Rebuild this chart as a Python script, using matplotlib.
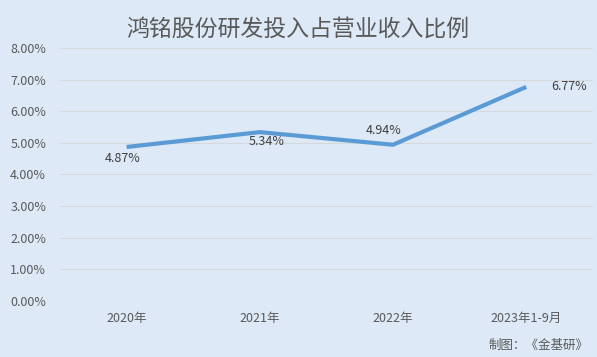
import matplotlib
matplotlib.use('Agg')
import matplotlib.pyplot as plt
from matplotlib.ticker import FuncFormatter

plt.rcParams['font.family'] = ['Noto Sans CJK SC', 'DejaVu Sans']

categories = ['2020年', '2021年', '2022年', '2023年1-9月']
ratio = [4.87, 5.34, 4.94, 6.77]
yticks = [0, 1, 2, 3, 4, 5, 6, 7, 8]

bg = '#dde9f6'
line_color = '#5b9bd5'
text_color = '#595959'

fig = plt.figure(figsize=(5.97, 3.57), dpi=100, facecolor=bg)
ax = fig.add_axes([0.1005, 0.157, 0.8925, 0.7085])
ax.set_facecolor(bg)

x = list(range(len(categories)))
ax.plot(x, ratio, color=line_color, linewidth=3, solid_capstyle='butt', zorder=3)

# data labels
offsets = [(-3, -8), (5, -7), (-7, 10), (31, 0)]
for xi, v, (dx, dy) in zip(x, ratio, offsets):
    ax.annotate(f'{v:.2f}%', (xi, v), xytext=(dx, dy), textcoords='offset points',
                ha='center', va='center', fontsize=9, color='#404040')

ax.set_xlim(-0.5, len(categories) - 0.5)
ax.set_ylim(0, 8)
ax.set_yticks(yticks)
ax.yaxis.set_major_formatter(FuncFormatter(lambda v, p: f'{v:.2f}%'))
ax.set_xticks(x)
ax.set_xticklabels(categories)
ax.tick_params(axis='both', length=0, labelsize=9, colors=text_color)
ax.tick_params(axis='x', pad=8)
ax.tick_params(axis='y', pad=10)
ax.grid(True, axis='y', color='#d6d9dc', linewidth=0.8)
ax.set_axisbelow(True)
for s in ax.spines.values():
    s.set_visible(False)

fig.text(0.498, 0.918, '鸿铭股份研发投入占营业收入比例', ha='center', va='center',
         fontsize=16.5, color=text_color)
fig.text(0.985, 0.033, '制图：《金基研》', ha='right', va='center',
         fontsize=9, color=text_color)

fig.savefig('out.png', dpi=100, facecolor=bg)
